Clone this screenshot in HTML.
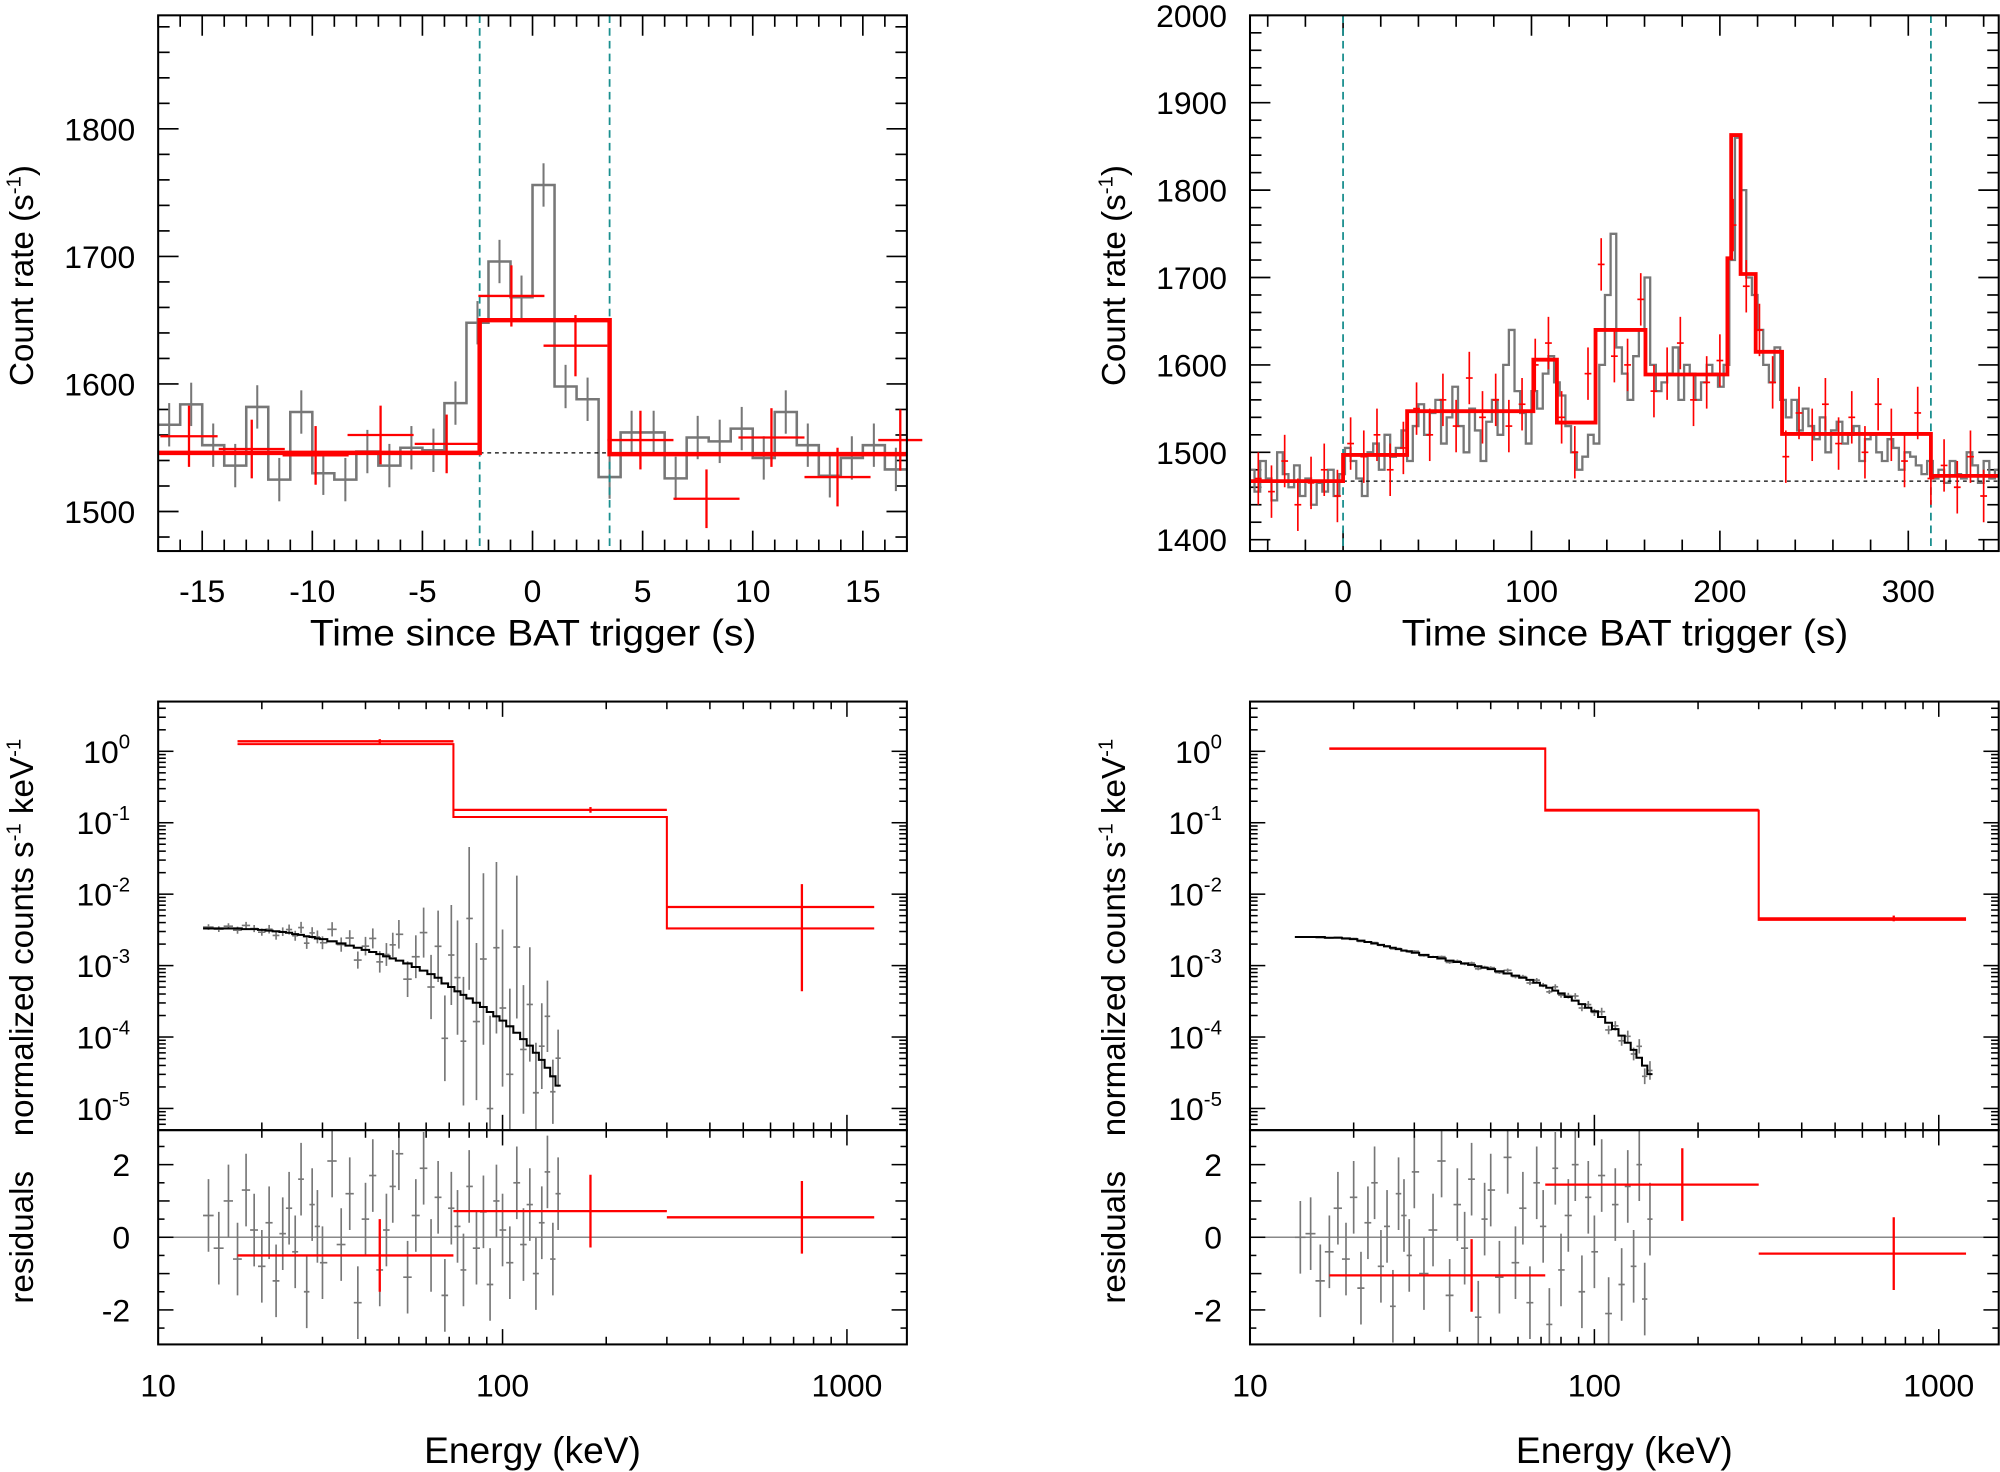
<!DOCTYPE html>
<html><head><meta charset="utf-8"><style>
html,body{margin:0;padding:0;background:#fff}
svg{display:block}
text{font-family:"Liberation Sans",Arial,sans-serif;fill:#000}
</style></head><body>
<svg id="fig" xmlns="http://www.w3.org/2000/svg" width="2000" height="1472" viewBox="0 0 1568 1154"></svg>
<script>
// ---------- Panel A data (1-s light curve) ----------
const aGrayStart = -17;
const aGrayVals = [1568,1584,1552,1536,1582,1525,1578,1530,1525,1547,1536,1550,1548,1585,1648,1696,1668,1756,1598,1588,1527,1562,1562,1526,1558,1555,1565,1542,1578,1552,1528,1542,1552,1533];
const aRedT = [-15.6,-12.75,-9.85,-6.9,-3.9,-0.96,1.95,4.9,7.9,10.85,13.85,16.7];
const aRedHW = [1.3,1.5,1.5,1.5,1.45,1.5,1.45,1.5,1.5,1.5,1.5,1.0];
const aRedV = [1559,1549,1544,1560,1553,1669,1630,1556,1510,1558,1527,1556];
const aRedE = [24,23,23,23,23,24,24,23,23,23,23,24];
const aModelEdges = [-17,-2.4,3.5,17];
const aModelVals = [1546,1650,1545];
const aWindow = [-2.4,3.5];
const aBase = 1546;
const aXTicks = [-15,-10,-5,0,5,10,15];
const aYTicks = [1500,1600,1700,1800];

// ---------- Panel B data ----------
const bGrayStart = -50;
const bGrayWidth = 3;
const bGrayVals = [1480,1455,1490,1470,1445,1500,1475,1460,1485,1450,1470,1440,1465,1455,1480,1450,1475,
1505,1490,1470,1450,1500,1510,1480,1520,1495,1505,1525,1490,
1530,1555,1520,1545,1560,1510,1540,1575,1530,1500,1550,1525,1490,1535,1560,1520,1600,1640,1570,1545,1510,1570,1550,
1590,1610,1580,1565,
1530,1500,1480,1495,1520,1510,1600,
1680,1750,1620,1590,1560,1610,1640,1700,
1600,1570,1580,1590,1620,1560,1600,1590,1560,1580,1600,1590,1575,1600,
1720,1860,1800,1700,1680,
1640,1600,1580,1620,1560,
1540,1560,1525,1550,1530,1515,1540,1500,1525,1535,1510,1520,1530,1490,1515,1520,1500,1490,1515,1505,1480,1500,1495,1485,1475,1490,1470,
1480,1465,1490,1475,1470,1500,1485,1465,1490,1470,1480];
const bRedT = [-45,-38,-31,-24,-17,-10,-3,4,11,18,25,32,39,46,53,60,67,74,81,88,95,102,109,116,123,130,137,144,151,158,165,172,179,186,193,200,207,214,221,228,235,242,249,256,263,270,277,284,291,298,305,312,319,326,333,340];
const bRedV = [1470,1455,1490,1440,1465,1480,1450,1510,1495,1520,1480,1505,1550,1520,1560,1530,1585,1540,1560,1530,1555,1600,1625,1540,1500,1590,1715,1610,1600,1675,1570,1590,1625,1560,1580,1605,1760,1690,1640,1580,1495,1545,1520,1555,1510,1540,1500,1555,1520,1490,1545,1470,1485,1460,1495,1450];
const bModelEdges = [-49.4,0,34,101,113.5,134,160.5,204,206,211,219,233,312,348];
const bModelVals = [1467,1497,1547,1606,1534,1640,1589,1722,1863,1704,1615,1521,1473];
const bWindow = [0,312];
const bBase = 1467;
const bXTicks = [0,100,200,300];
const bYTicks = [1400,1500,1600,1700,1800,1900,2000];

// ---------- Spectra data ----------
const specE = [14,15,16,17,18,19,20,21,22,23,24,25,26,27,28,29,30,32,34,36,38,40,42,44,46,48,50,53,56,59,62,65,68,71,74,77,80,84,88,92,96,100,105,110,115,120,125,130,135,140,145];
const cModelLog = [-2.48,-2.48,-2.48,-2.48,-2.49,-2.49,-2.50,-2.51,-2.52,-2.53,-2.54,-2.56,-2.57,-2.59,-2.60,-2.62,-2.63,-2.66,-2.69,-2.72,-2.75,-2.78,-2.81,-2.84,-2.87,-2.90,-2.93,-2.97,-3.02,-3.07,-3.12,-3.17,-3.25,-3.30,-3.36,-3.41,-3.46,-3.52,-3.58,-3.65,-3.71,-3.77,-3.85,-3.94,-4.03,-4.12,-4.22,-4.32,-4.43,-4.55,-4.68];
const cErrLog = [0.04,0.04,0.04,0.05,0.05,0.05,0.05,0.06,0.06,0.06,0.07,0.07,0.08,0.08,0.08,0.09,0.09,0.1,0.1,0.11,0.12,0.13,0.14,0.15,0.16,0.17,0.2,0.25,0.3,0.35,0.45,0.5,0.6,0.7,0.8,0.9,1.0,1.1,1.2,1.3,1.2,1.1,1.2,1.0,0.9,0.8,0.7,0.6,0.5,0.45,0.4];
const cResid = [0.6,-0.3,1.0,-0.6,1.3,0.2,-0.8,0.4,-1.2,0.1,0.8,-0.4,1.6,-1.5,0.9,0.3,-0.7,2.1,-0.2,1.2,-1.8,0.5,1.7,-0.9,0.2,1.4,2.3,-1.1,0.6,1.9,-0.5,1.1,-1.6,0.8,0.3,-0.9,1.4,-0.3,0.7,-1.3,1.0,0.2,-0.7,1.5,-0.2,0.9,-1.0,0.4,1.8,-0.6,1.2];
const dModelLog = [-2.60,-2.60,-2.60,-2.61,-2.61,-2.62,-2.63,-2.65,-2.67,-2.69,-2.71,-2.73,-2.75,-2.77,-2.79,-2.80,-2.82,-2.85,-2.88,-2.90,-2.93,-2.95,-2.97,-2.99,-3.01,-3.03,-3.05,-3.08,-3.11,-3.14,-3.17,-3.20,-3.24,-3.28,-3.31,-3.35,-3.39,-3.44,-3.49,-3.54,-3.59,-3.64,-3.72,-3.80,-3.89,-3.98,-4.08,-4.18,-4.29,-4.40,-4.52];
const dErrLog = [0.01,0.01,0.01,0.01,0.01,0.01,0.01,0.01,0.01,0.01,0.01,0.01,0.01,0.01,0.01,0.015,0.015,0.015,0.015,0.015,0.02,0.02,0.02,0.02,0.02,0.02,0.02,0.02,0.025,0.025,0.025,0.03,0.03,0.03,0.03,0.035,0.035,0.04,0.04,0.045,0.05,0.05,0.055,0.06,0.065,0.07,0.08,0.09,0.1,0.11,0.13];
const dResid = [0.0,0.1,-1.2,-0.4,0.8,-0.6,1.1,-1.4,0.4,1.5,-0.8,0.3,-1.9,1.2,0.6,-0.5,1.8,-1.0,0.2,2.1,-1.6,0.9,-0.3,1.6,-2.2,0.5,1.3,-1.1,2.2,-0.7,0.8,-1.8,1.5,0.3,-2.4,1.9,-0.9,0.6,2.0,-1.5,1.1,-0.4,1.7,-2.1,0.9,-1.3,1.4,-0.8,2.0,-1.7,0.5];
const cRedLo = [17,72,300];
const cRedHi = [72,300,1200];
const cRedLog = [0.14,-0.82,-2.18];
const cRedModLog = [0.10,-0.92,-2.48];
const cRedEcen = [44,180,740];
const cRedErrHi = [0.03,0.04,0.32];
const cRedErrLo = [0.03,0.04,1.18];
const cRedRes = [-0.5,0.72,0.55];
const dRedLog = [0.036,-0.82,-2.34];
const dRedModLog = [0.04,-0.83,-2.36];
const dRedRes = [-1.05,1.45,-0.45];
const dRedErr = [0.01,0.01,0.04];
const specYTicks = [0,-1,-2,-3,-4,-5];
const residTicks = [-2,0,2];
const energyTicks = [10,100,1000];

// ---------- helpers ----------
const NS = "http://www.w3.org/2000/svg";
const svg = document.getElementById('fig');
function mk(tag, attrs, name, parent) {
  const el = document.createElementNS(NS, tag);
  for (const k in attrs) el.setAttribute(k, attrs[k]);
  
  
  (parent || svg).appendChild(el);
  return el;
}
function line(x1,y1,x2,y2,stroke,w,name,dash,parent){
  const a={x1:x1,y1:y1,x2:x2,y2:y2,stroke:stroke,'stroke-width':w};
  if(dash) a['stroke-dasharray']=dash;
  return mk('line',a,name,parent);
}
function txt(x,y,s,size,anchor,name,extra,parent){
  const a={x:x,y:y,'font-size':size,'text-anchor':anchor||'middle'};
  if(extra) for(const k in extra) a[k]=extra[k];
  const t=mk('text',a,name,parent); t.textContent=s; return t;
}
function lin(d0,d1,p0,p1){return v=>p0+(v-d0)/(d1-d0)*(p1-p0);}

// ---------- panel layouts ----------
const L = {x0:124,x1:711}, R = {x0:980,x1:1567};
const TOP = {y0:12,y1:432};
const SPEC = {y0:550,y1:886}, RES = {y0:886,y1:1054};

function frame(p,x0,x1,y0,y1,name){
  mk('rect',{x:x0,y:y0,width:x1-x0,height:y1-y0,fill:'none',stroke:'#000','stroke-width':1.6},name,p);
}
function stepPath(edges,vals,sx,sy){
  let d='M'+sx(edges[0])+' '+sy(vals[0]);
  for(let i=0;i<vals.length;i++){
    d+=' L'+sx(edges[i+1])+' '+sy(vals[i]);
    if(i+1<vals.length) d+=' L'+sx(edges[i+1])+' '+sy(vals[i+1]);
  }
  return d;
}

// ---------- Panel A ----------
(function(){
  const g=mk('g',{},'panel-a-lightcurve');
  const sx=lin(-17,17,L.x0,L.x1), sy=lin(1469,1889,TOP.y1,TOP.y0);
  // ticks
  for(let v=-17; v<=17; v++){
    const maj=v%5===0, len=maj?16:9;
    line(sx(v),TOP.y1,sx(v),TOP.y1-len,'#000',1.3,'x-tick',null,g);
    line(sx(v),TOP.y0,sx(v),TOP.y0+len,'#000',1.3,'x-tick-top',null,g);
  }
  for(let v=1480; v<=1880; v+=20){
    const maj=v%100===0, len=maj?16:9;
    line(L.x0,sy(v),L.x0+len,sy(v),'#000',1.3,'y-tick',null,g);
    line(L.x1,sy(v),L.x1-len,sy(v),'#000',1.3,'y-tick-right',null,g);
  }
  aXTicks.forEach(v=>txt(sx(v),472,String(v),25,'middle','x-tick-label',null,g));
  aYTicks.forEach(v=>txt(106,sy(v)+9,String(v),25,'end','y-tick-label',null,g));
  txt(418,506,'Time since BAT trigger (s)',29,'middle','x-axis-title',{textLength:350,lengthAdjust:'spacingAndGlyphs'},g);
  const yt=mk('text',{x:0,y:0,'font-size':26,'text-anchor':'middle',transform:'translate(26,216) rotate(-90)'},'y-axis-title',g);
  yt.innerHTML='Count rate (s<tspan dy="-10" font-size="16">-1</tspan><tspan dy="10">)</tspan>';
  // gray histogram
  const edges=aGrayVals.map((_,i)=>aGrayStart+i); edges.push(aGrayStart+aGrayVals.length);
  mk('path',{d:stepPath(edges,aGrayVals,sx,sy),fill:'none',stroke:'#777','stroke-width':2},'gray-lightcurve',g);
  aGrayVals.forEach((v,i)=>line(sx(aGrayStart+i+0.5),sy(v-17),sx(aGrayStart+i+0.5),sy(v+17),'#777',1.6,'gray-error-bar',null,g));
  // window lines
  aWindow.forEach(t=>line(sx(t),TOP.y0,sx(t),TOP.y1,'#1a8f8f',1.4,'interval-marker','6,4',g));
  line(sx(aWindow[0]),sy(aBase),sx(aWindow[1]),sy(aBase),'#000',1,'background-level','3,3',g);
  // red crosses
  aRedT.forEach((t,i)=>{
    line(sx(t-aRedHW[i]),sy(aRedV[i]),sx(t+aRedHW[i]),sy(aRedV[i]),'#f00',1.8,'red-point-x',null,g);
    line(sx(t),sy(aRedV[i]-aRedE[i]),sx(t),sy(aRedV[i]+aRedE[i]),'#f00',1.8,'red-point-y',null,g);
  });
  mk('path',{d:stepPath(aModelEdges,aModelVals,sx,sy),fill:'none',stroke:'#f00','stroke-width':3.5},'red-model',g);
  frame(g,L.x0,L.x1,TOP.y0,TOP.y1,'panel-a-frame');
})();

// ---------- Panel B ----------
(function(){
  const g=mk('g',{},'panel-b-lightcurve');
  const sx=lin(-49.4,348,R.x0,R.x1), sy=lin(1387,2000,TOP.y1,TOP.y0);
  for(let v=-40; v<=340; v+=20){
    const maj=v%100===0, len=maj?16:9;
    line(sx(v),TOP.y1,sx(v),TOP.y1-len,'#000',1.3,'x-tick',null,g);
    line(sx(v),TOP.y0,sx(v),TOP.y0+len,'#000',1.3,'x-tick-top',null,g);
  }
  for(let v=1400; v<=2000; v+=20){
    const maj=v%100===0, len=maj?16:9;
    line(R.x0,sy(v),R.x0+len,sy(v),'#000',1.3,'y-tick',null,g);
    line(R.x1,sy(v),R.x1-len,sy(v),'#000',1.3,'y-tick-right',null,g);
  }
  bXTicks.forEach(v=>txt(sx(v),472,String(v),25,'middle','x-tick-label',null,g));
  bYTicks.forEach(v=>txt(962,sy(v)+9,String(v),25,'end','y-tick-label',null,g));
  txt(1274,506,'Time since BAT trigger (s)',29,'middle','x-axis-title',{textLength:350,lengthAdjust:'spacingAndGlyphs'},g);
  const yt=mk('text',{x:0,y:0,'font-size':26,'text-anchor':'middle',transform:'translate(882,216) rotate(-90)'},'y-axis-title',g);
  yt.innerHTML='Count rate (s<tspan dy="-10" font-size="16">-1</tspan><tspan dy="10">)</tspan>';
  const edges=bGrayVals.map((_,i)=>bGrayStart+i*bGrayWidth); edges.push(bGrayStart+bGrayVals.length*bGrayWidth);
  const clip=mk('clipPath',{id:'clipB'},'clip-b',g);
  mk('rect',{x:R.x0,y:TOP.y0,width:R.x1-R.x0,height:TOP.y1-TOP.y0},'clip-rect',clip);
  const inner=mk('g',{'clip-path':'url(#clipB)'},'panel-b-plot-area',g);
  mk('path',{d:stepPath(edges,bGrayVals,sx,sy),fill:'none',stroke:'#777','stroke-width':1.8},'gray-lightcurve',inner);
  bWindow.forEach(t=>line(sx(t),TOP.y0,sx(t),TOP.y1,'#1a8f8f',1.4,'interval-marker','6,4',inner));
  line(sx(bWindow[0]),sy(bBase),R.x1,sy(bBase),'#000',1,'background-level','3,3',inner);
  bRedT.forEach((t,i)=>{
    line(sx(t-1.8),sy(bRedV[i]),sx(t+1.8),sy(bRedV[i]),'#f00',1.3,'red-point-x',null,inner);
    line(sx(t),sy(bRedV[i]-30),sx(t),sy(bRedV[i]+30),'#f00',1.3,'red-point-y',null,inner);
  });
  mk('path',{d:stepPath(bModelEdges,bModelVals,sx,sy),fill:'none',stroke:'#f00','stroke-width':3},'red-model',inner);
  frame(g,R.x0,R.x1,TOP.y0,TOP.y1,'panel-b-frame');
})();

// ---------- Spectra ----------
function spectrum(P,id,modelLog,errLog,resid,redLog,redModLog,redRes,redErrHi,redErrLo,yLabX){
  const g=mk('g',{},'panel-'+id+'-spectrum');
  const sx=v=>P.x0+(Math.log10(v)-1)*270;
  const sy=lg=>589-lg*56;
  const sr=lin(-2.95,2.95,RES.y1,RES.y0);
  const clip=mk('clipPath',{id:'clip'+id},'clip-'+id,g);
  mk('rect',{x:P.x0,y:SPEC.y0,width:P.x1-P.x0,height:SPEC.y1-SPEC.y0},'clip-rect',clip);
  const clip2=mk('clipPath',{id:'clipr'+id},'clip-res-'+id,g);
  mk('rect',{x:P.x0,y:RES.y0,width:P.x1-P.x0,height:RES.y1-RES.y0},'clip-rect',clip2);
  const up=mk('g',{'clip-path':'url(#clip'+id+')'},'spectrum-plot-area',g);
  const rp=mk('g',{'clip-path':'url(#clipr'+id+')'},'residual-plot-area',g);
  // x ticks
  for(let dec=10; dec<=1000; dec*=10){
    for(let m=1;m<10;m++){
      const v=dec*m; if(Math.log10(v)>3.175) break;
      const len=m===1?12:6;
      [SPEC.y0,RES.y0].forEach(y=>line(sx(v),y,sx(v),y+len,'#000',1.2,'x-tick-top',null,g));
      [SPEC.y1,RES.y1].forEach(y=>line(sx(v),y,sx(v),y-len,'#000',1.2,'x-tick',null,g));
    }
  }
  energyTicks.forEach(v=>txt(sx(v),1095,String(v),25,'middle','x-tick-label',null,g));
  txt((P.x0+P.x1)/2,1147,'Energy (keV)',29,'middle','x-axis-title',{textLength:170,lengthAdjust:'spacingAndGlyphs'},g);
  // y ticks spectrum
  for(let e=-6;e<=0;e++){
    for(let m=1;m<10;m++){
      const lg=e+Math.log10(m); const y=sy(lg);
      if(y<SPEC.y0||y>SPEC.y1) continue;
      const len=m===1?12:6;
      line(P.x0,y,P.x0+len,y,'#000',1.2,'y-tick',null,g);
      line(P.x1,y,P.x1-len,y,'#000',1.2,'y-tick-right',null,g);
    }
  }
  specYTicks.forEach(e=>{
    const t=mk('text',{x:P.x0-22,y:sy(e)+9,'font-size':25,'text-anchor':'end'},'y-tick-label',g);
    t.innerHTML='10<tspan dy="-11" font-size="16">'+e+'</tspan>';
  });
  const yt=mk('text',{x:0,y:0,'font-size':26,'text-anchor':'middle',transform:'translate('+yLabX+',735) rotate(-90)'},'y-axis-title',g);
  yt.innerHTML='normalized counts s<tspan dy="-10" font-size="16">-1</tspan><tspan dy="10"> keV</tspan><tspan dy="-10" font-size="16">-1</tspan>';
  // residual ticks
  for(let v=-2.5;v<=2.5;v+=0.5){
    const len=Number.isInteger(v)&&v%2===0?12:(Number.isInteger(v)?9:5);
    line(P.x0,sr(v),P.x0+len,sr(v),'#000',1.2,'res-y-tick',null,g);
    line(P.x1,sr(v),P.x1-len,sr(v),'#000',1.2,'res-y-tick-right',null,g);
  }
  residTicks.forEach(v=>txt(P.x0-22,sr(v)+9,String(v),25,'end','res-y-tick-label',null,g));
  txt(0,0,'residuals',26,'middle','res-axis-title',{transform:'translate('+yLabX+',970) rotate(-90)'},g);
  line(P.x0,sr(0),P.x1,sr(0),'#888',1.2,'zero-line',null,rp);
  // gray data + model
  const lo=specE.map((e,i)=>i===0?e-0.5:Math.sqrt(specE[i-1]*e));
  const hi=specE.map((e,i)=>i===specE.length-1?e+2.5:Math.sqrt(specE[i+1]*e));
  let d='';
  specE.forEach((e,i)=>{
    const m=modelLog[i], dv=m+resid[i]*errLog[i]*0.8;
    line(sx(lo[i]),sy(dv),sx(hi[i]),sy(dv),'#777',1.3,'gray-data-x',null,up);
    line(sx(e),sy(dv-errLog[i]),sx(e),sy(dv+errLog[i]),'#777',1.3,'gray-data-y',null,up);
    d+=(i===0?'M':' L')+sx(lo[i])+' '+sy(m)+' L'+sx(hi[i])+' '+sy(m);
    line(sx(lo[i]),sr(resid[i]),sx(hi[i]),sr(resid[i]),'#777',1.3,'gray-resid-x',null,rp);
    line(sx(e),sr(resid[i]-1),sx(e),sr(resid[i]+1),'#777',1.3,'gray-resid-y',null,rp);
  });
  mk('path',{d:d,fill:'none',stroke:'#000','stroke-width':1.6},'model-curve',up);
  // red
  let rd='';
  cRedLo.forEach((l,i)=>{
    line(sx(l),sy(redLog[i]),sx(cRedHi[i]),sy(redLog[i]),'#f00',1.8,'red-data-x',null,up);
    line(sx(cRedEcen[i]),sy(redLog[i]-redErrLo[i]),sx(cRedEcen[i]),sy(redLog[i]+redErrHi[i]),'#f00',1.8,'red-data-y',null,up);
    rd+=(i===0?'M':' L')+sx(l)+' '+sy(redModLog[i])+' L'+sx(cRedHi[i])+' '+sy(redModLog[i]);
    line(sx(l),sr(redRes[i]),sx(cRedHi[i]),sr(redRes[i]),'#f00',1.8,'red-resid-x',null,rp);
    line(sx(cRedEcen[i]),sr(redRes[i]-1),sx(cRedEcen[i]),sr(redRes[i]+1),'#f00',1.8,'red-resid-y',null,rp);
  });
  mk('path',{d:rd,fill:'none',stroke:'#f00','stroke-width':1.6},'red-model',up);
  frame(g,P.x0,P.x1,SPEC.y0,SPEC.y1,'spectrum-frame');
  frame(g,P.x0,P.x1,RES.y0,RES.y1,'residual-frame');
}
spectrum(L,'c',cModelLog,cErrLog,cResid,cRedLog,cRedModLog,cRedRes,cRedErrHi,cRedErrLo,26);
spectrum(R,'d',dModelLog,dErrLog,dResid,dRedLog,dRedModLog,dRedRes,dRedErr,dRedErr,882);
</script>
</body></html>
